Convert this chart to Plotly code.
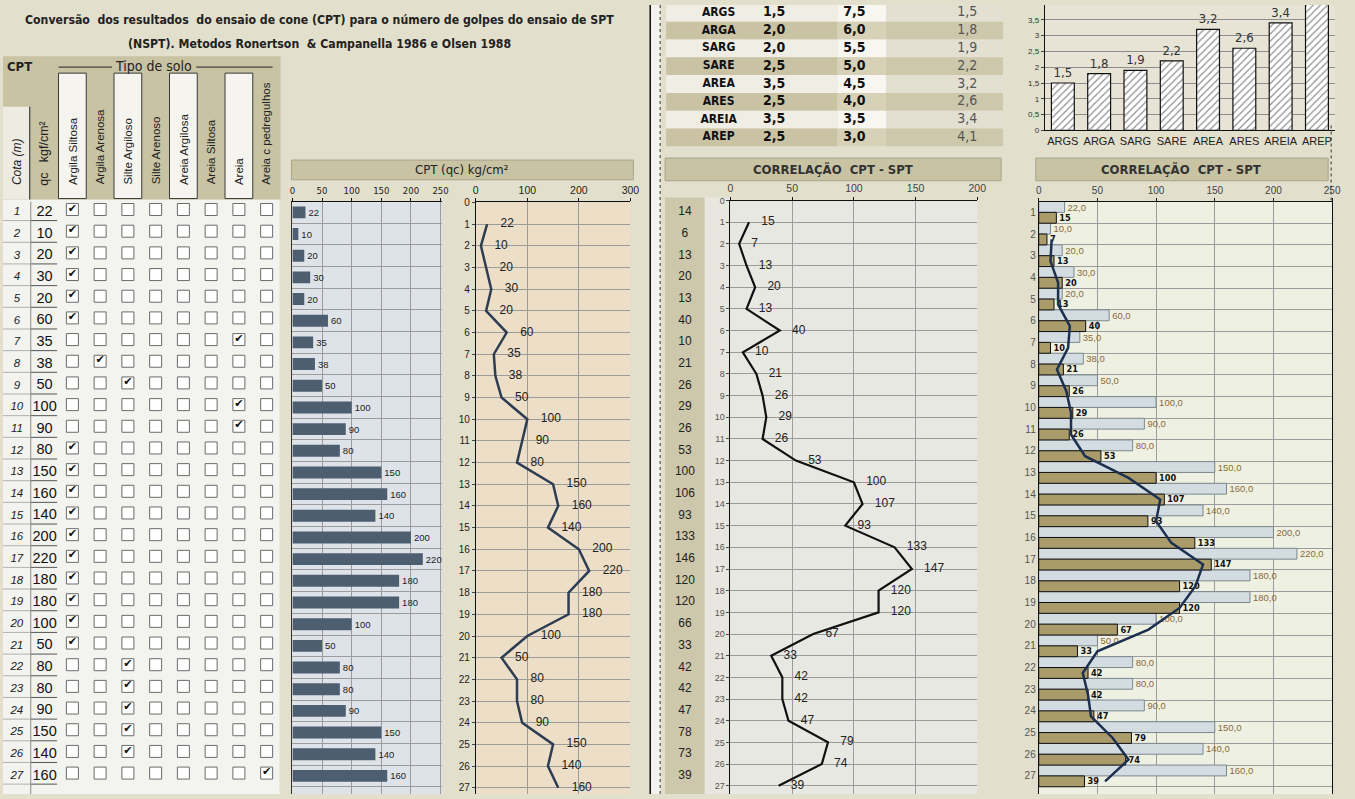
import plotly.graph_objects as go

W, H = 1355, 799

depth = list(range(1, 28))
qc = [22, 10, 20, 30, 20, 60, 35, 38, 50, 100, 90, 80, 150, 160, 140, 200, 220,
      180, 180, 100, 50, 80, 80, 90, 150, 140, 160]
soil_types = ["Argila Siltosa", "Argila Arenosa", "Silte Argiloso", "Silte Arenoso",
              "Areia Argilosa", "Areia Siltosa", "Areia", "Areia c pedregulhos"]
soil_idx = [0, 0, 0, 0, 0, 0, 6, 1, 2, 6, 6, 0, 0, 0, 0, 0, 0, 0, 0, 0, 0,
            2, 2, 2, 2, 2, 7]
spt_n = [15, 7, 13, 20, 13, 40, 10, 21, 26, 29, 26, 53, 100, 107, 93, 133, 147,
         120, 120, 67, 33, 42, 42, 47, 79, 74, 39]
spt_col = [14, 6, 13, 20, 13, 40, 10, 21, 26, 29, 26, 53, 100, 106, 93, 133, 146,
           120, 120, 66, 33, 42, 42, 47, 78, 73, 39]
# linha de tendencia (media movel), cotas 2..27
avg_depth = list(range(2, 28))
spt_avg = [11, 10, 16.5, 16.5, 26.5, 25, 15.5, 23.5, 27.5, 27.5, 39.5, 76.5, 103.5,
           100, 113, 140, 133.5, 120, 93.5, 50, 37.5, 42, 44.5, 63, 76.5, 56.5]
soil_codes = ["ARGS", "ARGA", "SARG", "SARE", "AREA", "ARES", "AREIA", "AREP"]
coef_a = [1.5, 2.0, 2.0, 2.5, 3.5, 2.5, 3.5, 2.5]
coef_b = [7.5, 6.0, 5.5, 5.0, 4.5, 4.0, 3.5, 3.0]
coef_k = [1.5, 1.8, 1.9, 2.2, 3.2, 2.6, 3.4, 4.1]

NARROW = "Liberation Sans Narrow, Arial Narrow, DejaVu Sans Condensed, sans-serif"
SANS = "Liberation Sans, Arial, sans-serif"
PAGE = "#e2dfcc"
KHAKI = "#c8c3a3"
GRID = "#9c9c9c"

ROW = 21.95
row_bot = 0.5 + (H - 199) / ROW
TROW = 18.0  # altura das linhas da tabela de coeficientes
K_TOP = 127 / 32  # topo visivel do grafico K


def px(x):
    return x / W


def py(y):
    return 1 - y / H


shapes = []


def rect(x0, y0, x1, y1, fill, line=None, lw=0, xref="paper", yref="paper"):
    if xref == "paper":
        x0, x1 = px(x0), px(x1)
    if yref == "paper":
        y0, y1 = py(y0), py(y1)
    shapes.append(dict(type="rect", xref=xref, yref=yref, x0=x0, x1=x1, y0=y0, y1=y1,
                       fillcolor=fill, line=dict(color=line or fill, width=lw),
                       layer="below"))


def vline(x, y0, y1, color, width=1, dash="solid", xref="paper", yref="paper"):
    if xref == "paper":
        x = px(x)
    if yref == "paper":
        y0, y1 = py(y0), py(y1)
    shapes.append(dict(type="line", xref=xref, yref=yref, x0=x, x1=x, y0=y0, y1=y1,
                       line=dict(color=color, width=width, dash=dash), layer="below"))


def hline(x0, x1, y, color, width=1, xref="paper", yref="paper"):
    if xref == "paper":
        x0, x1 = px(x0), px(x1)
    if yref == "paper":
        y = py(y)
    shapes.append(dict(type="line", xref=xref, yref=yref, x0=x0, x1=x1, y0=y, y1=y,
                       line=dict(color=color, width=width), layer="below"))


# ---- fundos
rect(0, 197, 279, H, "#f3f3f0")
rect(0, 52, 280, 197, KHAKI)
rect(0, 103, 27, 197, "#edebe2")
for i in range(0, len(soil_types), 2):
    rect(i - 0.5, 69, i + 0.5, 196, "#f5f4ef", line="#3a3a3a", lw=1, xref="x")
vline(27, 103, 197, "#222", 1)
vline(-1.5, 0.5, row_bot, "#8a8a8a", 1, xref="x", yref="y")
for r in depth:
    hline(-2.5, -1.5, r + 0.38, "#b0b0b0", 1, xref="x", yref="y")
    hline(-1.5, -0.55, r + 0.38, "#555", 1, xref="x", yref="y")
hline(56, 110, 63, "#444", 1.2)
hline(195, 272, 63, "#444", 1.2)

rect(0, 0, 1, 1, "#dee3e9", xref="x2 domain", yref="y2 domain")
rect(0, 0, 1, 1, "#ecdec7", xref="x3 domain", yref="y3 domain")
rect(291, 157, 636, 177, KHAKI, line="#a9a48a", lw=1)

rect(654, 0, 663, H, "#f3f2ec")
vline(653, 0, H, "#111", 1.5)
vline(663, 0, H, "#333", 1, dash="dot")

# linhas da tabela de coeficientes (x8 em unidades da largura da tabela)
for k in range(len(soil_codes)):
    light = k % 2 == 0
    rect(0, k - 0.5, 173, k + 0.5, "#efede4" if light else "#c9c3a4", xref="x8", yref="y8")
    rect(173, k - 0.5, 222, k + 0.5, "#f7f6f1" if light else "#d6d1b7", xref="x8", yref="y8")
    rect(222, k - 0.5, 340, k + 0.5, "#e3e0d2" if light else "#cdc8ac", xref="x8", yref="y8")

rect(668, 155, 1007, 178, KHAKI, line="#a9a48a", lw=1)
rect(668, 195, 708, H, "#cdc8ab")
rect(708, 195, 734, H, "#e7e6df")
rect(0, 0, 1, 1, "#e8e8e3", xref="x5 domain", yref="y5 domain")

rect(1042, 155, 1337, 178, KHAKI, line="#a9a48a", lw=1)
rect(0, 0, 1, 1, "#eef0e1", xref="x6 domain", yref="y6 domain")
rect(0, 0, 1, 1, "#e7e4d5", xref="x7 domain", yref="y7 domain")
vline(1340, 122, 200, "#333", 1, dash="dot")

fig = go.Figure()

# ---- tabela da esquerda
fig.add_trace(go.Scatter(
    x=[-2] * len(depth), y=depth, mode="text", text=[str(d) for d in depth],
    textfont=dict(family=SANS, size=11.5, color="#222", style="italic"),
    xaxis="x", yaxis="y", hoverinfo="skip"))
fig.add_trace(go.Scatter(
    x=[-1] * len(depth), y=depth, mode="text", text=[str(v) for v in qc],
    textfont=dict(family=SANS, size=14.5, color="#111"),
    xaxis="x", yaxis="y", hoverinfo="skip"))
bx, by = [], []
for r in depth:
    for i in range(len(soil_types)):
        bx.append(i)
        by.append(r - 0.13)
fig.add_trace(go.Scatter(
    x=bx, y=by, mode="markers",
    marker=dict(symbol="square", size=12, color="white", line=dict(color="#6b6b6b", width=1)),
    xaxis="x", yaxis="y", hoverinfo="skip"))
fig.add_trace(go.Scatter(
    x=soil_idx, y=[r - 0.16 for r in depth], mode="text", text=["✔"] * len(depth),
    textfont=dict(family="DejaVu Sans", size=11, color="#111"),
    xaxis="x", yaxis="y", hoverinfo="skip"))

# ---- grafico barras qc
fig.add_trace(go.Bar(
    x=qc, y=depth, orientation="h", width=0.55,
    marker=dict(color="#4e5e71", line=dict(width=0)),
    texttemplate="%{x}", textposition="outside", cliponaxis=False,
    textfont=dict(family=SANS, size=9.5, color="#222"),
    xaxis="x2", yaxis="y2", hoverinfo="skip"))

# ---- grafico linha qc
fig.add_trace(go.Scatter(
    x=qc, y=depth, mode="lines", line=dict(color="#2e3d52", width=2.5),
    xaxis="x3", yaxis="y3", hoverinfo="skip"))
fig.add_trace(go.Scatter(
    x=qc, y=depth, mode="markers+text", text=[str(v) for v in qc],
    textposition="middle right", marker=dict(size=20, color="rgba(0,0,0,0)"),
    textfont=dict(family=SANS, size=12, color="#222"), cliponaxis=False,
    xaxis="x3", yaxis="y3", hoverinfo="skip"))

# ---- coluna NSPT
fig.add_trace(go.Scatter(
    x=[0.5] * len(depth), y=depth, mode="text", text=[str(v) for v in spt_col],
    textfont=dict(family=SANS, size=12, color="#222"),
    xaxis="x4", yaxis="y", hoverinfo="skip"))

# ---- correlacao (linha)
fig.add_trace(go.Scatter(
    x=spt_n, y=depth, mode="lines", line=dict(color="#111", width=2.2),
    xaxis="x5", yaxis="y5", hoverinfo="skip"))
fig.add_trace(go.Scatter(
    x=spt_n, y=depth, mode="markers+text", text=[str(v) for v in spt_n],
    textposition="middle right", marker=dict(size=18, color="rgba(0,0,0,0)"),
    textfont=dict(family=SANS, size=12, color="#222"), cliponaxis=False,
    xaxis="x5", yaxis="y5", hoverinfo="skip"))

# ---- correlacao (barras)
fig.add_trace(go.Bar(
    x=qc, y=depth, orientation="h", width=0.5, offset=-0.5,
    marker=dict(color="#d2dce1", line=dict(color="#7d898f", width=1)),
    texttemplate="%{x:.1f}", textposition="outside", cliponaxis=False,
    textfont=dict(family=SANS, size=10.5, color="#8b6a3c"),
    xaxis="x6", yaxis="y6", hoverinfo="skip"))
fig.add_trace(go.Bar(
    x=spt_n, y=depth, orientation="h", width=0.5, offset=0,
    marker=dict(color="#a99b6a", line=dict(color="#111", width=1)),
    texttemplate="<b>%{x}</b>", textposition="outside", cliponaxis=False,
    textfont=dict(family=NARROW, size=11, color="#111"),
    xaxis="x6", yaxis="y6", hoverinfo="skip"))
fig.add_trace(go.Scatter(
    x=spt_avg, y=[d + 0.25 for d in avg_depth], mode="lines",
    line=dict(color="#1e3050", width=2.5),
    xaxis="x6", yaxis="y6", hoverinfo="skip"))

# ---- coeficiente K (rotulo de barra que passa do topo fica oculto, como no original)
fig.add_trace(go.Bar(
    x=soil_codes, y=coef_k, width=0.63,
    marker=dict(color="white", line=dict(color="#111", width=1.2),
                pattern=dict(shape="/", fgcolor="#222", bgcolor="white", size=5, solidity=0.25)),
    texttemplate="%{y:.1f}",
    textposition=["outside" if v < K_TOP - 0.3 else "none" for v in coef_k],
    textfont=dict(family=NARROW, size=13, color="#333"),
    xaxis="x7", yaxis="y7", hoverinfo="skip"))


# ---- tabela de coeficientes
def fmt(v):
    return f"{v:.1f}".replace(".", ",")


rows_t = list(range(len(soil_codes)))
col_name, col_a, col_b, col_k = 53, 109, 190, 314
fig.add_trace(go.Scatter(
    x=[col_name] * len(rows_t), y=rows_t, mode="text", text=soil_codes,
    textfont=dict(family=NARROW, size=12, color="#111", weight="bold"),
    xaxis="x8", yaxis="y8", hoverinfo="skip"))
fig.add_trace(go.Scatter(
    x=[col_a] * len(rows_t), y=rows_t, mode="text", text=[fmt(v) for v in coef_a],
    textfont=dict(family=NARROW, size=14, color="#111", weight="bold"),
    xaxis="x8", yaxis="y8", hoverinfo="skip"))
fig.add_trace(go.Scatter(
    x=[col_b] * len(rows_t), y=rows_t, mode="text", text=[fmt(v) for v in coef_b],
    textfont=dict(family=NARROW, size=14, color="#111", weight="bold"),
    xaxis="x8", yaxis="y8", hoverinfo="skip"))
fig.add_trace(go.Scatter(
    x=[col_k] * len(rows_t), y=rows_t, mode="text", text=[fmt(v) for v in coef_k],
    textposition="middle left",
    textfont=dict(family=NARROW, size=14, color="#555"),
    xaxis="x8", yaxis="y8", hoverinfo="skip"))

# ---- textos
ann = []


def text(x, y, s, size=12, family=NARROW, color="#222", angle=0, xanchor="center",
         yanchor="middle", xref="paper", weight="normal", style="normal"):
    ann.append(dict(x=px(x) if xref == "paper" else x, y=py(y), xref=xref, yref="paper",
                    text=s, showarrow=False, textangle=angle, xanchor=xanchor,
                    yanchor=yanchor,
                    font=dict(size=size, family=family, color=color, weight=weight,
                              style=style)))


text(319, 15, "Conversão  dos resultados  do ensaio de cone (CPT) para o número de golpes do ensaio de SPT",
     size=12.2, weight="bold")
text(319, 39, "(NSPT). Metodos Ronertson  & Campanella 1986 e Olsen 1988", size=12.2, weight="bold")
text(17, 62, "CPT", size=13, weight="bold")
text(152, 62, "Tipo de solo", size=14)
text(14, 184, "Cota (m)", size=12, family=SANS, angle=-90, yanchor="bottom", style="italic")
text(42, 185, "qc   kgf/cm²", size=12.5, family=SANS, angle=-90, yanchor="bottom")
for i, name in enumerate(soil_types):
    text(i, 184, name, size=11.5, family=SANS, angle=-90, yanchor="bottom", xref="x")
text(463, 167, "CPT (qc) kg/cm²", size=13)
text(837, 166.5, "CORRELAÇÃO  CPT - SPT", size=13, weight="bold", color="#333")
text(1189, 166.5, "CORRELAÇÃO  CPT - SPT", size=13, weight="bold", color="#333")

top_x = dict(side="top", showgrid=True, gridcolor=GRID, gridwidth=1, zeroline=False,
             showline=True, linecolor="#111", linewidth=1, ticks="outside", ticklen=3,
             tickcolor="#111")
dom_rows = [0, py(199)]

fig.update_layout(
    width=W, height=H, margin=dict(l=0, r=0, t=0, b=0),
    paper_bgcolor=PAGE, plot_bgcolor="rgba(0,0,0,0)",
    showlegend=False, separators=",.", barmode="overlay",
    font=dict(family=SANS, color="#222"),
    shapes=shapes, annotations=ann,
    xaxis=dict(domain=[0, px(280)], range=[-2.5, 7.5], visible=False, anchor="y"),
    yaxis=dict(domain=dom_rows, range=[row_bot, 0.5], visible=False, anchor="x"),
    xaxis2=dict(domain=[px(292), px(443)], range=[0, 252.5], anchor="y2",
                tickvals=[0, 50, 100, 150, 200, 250],
                tickfont=dict(family=NARROW, size=9.5, color="#222"), **top_x),
    yaxis2=dict(domain=dom_rows, range=[row_bot, 0.5], anchor="x2", tick0=0.5, dtick=1,
                showticklabels=False, showgrid=True, gridcolor=GRID, zeroline=False,
                showline=True, linecolor="#333", ticks=""),
    xaxis3=dict(domain=[px(477), px(633)], range=[0, 300], anchor="y3", dtick=100,
                tickfont=dict(family=SANS, size=10.5, color="#222"), **top_x),
    yaxis3=dict(domain=[0, py(200)], range=[(H - 200) / ROW, 0], anchor="x3", dtick=1,
                showgrid=True, gridcolor=GRID, zeroline=False, showline=True,
                linecolor="#111", ticks="outside", ticklen=3,
                tickfont=dict(family=SANS, size=10, color="#222")),
    xaxis4=dict(domain=[px(668), px(708)], range=[0, 1], visible=False, anchor="y"),
    xaxis5=dict(domain=[px(734), px(983)], range=[0, 200], anchor="y5", dtick=50,
                tickfont=dict(family=SANS, size=10.5, color="#444"), **top_x),
    yaxis5=dict(domain=[0, py(198)], range=[(H - 198) / ROW, 0], anchor="x5", dtick=1,
                showgrid=True, gridcolor=GRID, zeroline=False, showline=True,
                linecolor="#111", ticks="outside", ticklen=3,
                tickfont=dict(family=SANS, size=9, color="#555")),
    xaxis6=dict(domain=[px(1045), px(1341)], range=[0, 250], anchor="y6", dtick=50,
                tickfont=dict(family=SANS, size=10, color="#444"), **top_x),
    yaxis6=dict(domain=dom_rows, range=[row_bot, 0.5], anchor="x6",
                tickvals=depth, showgrid=False, zeroline=False, showline=True, mirror=True,
                linecolor="#111", ticks="",
                minor=dict(tick0=0.5, dtick=1, showgrid=True, gridcolor=GRID, ticks=""),
                tickfont=dict(family=SANS, size=10, color="#555")),
    xaxis7=dict(domain=[px(1051), px(1344)], anchor="y7", showgrid=False, showline=True,
                linecolor="#111", ticks="", tickfont=dict(family=SANS, size=11, color="#222")),
    yaxis7=dict(domain=[py(127), 1], range=[0, K_TOP], anchor="x7", dtick=0.5,
                showgrid=True, gridcolor="#8d8d8d", zeroline=False, showline=True,
                linecolor="#111", ticks="outside", ticklen=3,
                tickfont=dict(family=SANS, size=8, color="#333")),
    xaxis8=dict(domain=[px(669), px(1009)], range=[0, 340], visible=False, anchor="y8"),
    yaxis8=dict(domain=[py(144), 1], range=[(144 - 8) / TROW, -8 / TROW],
                visible=False, anchor="x8"),
)

fig.write_html("out.html", config={"displayModeBar": False},
               post_script="document.body.style.margin='0';document.body.style.overflow='hidden';")
